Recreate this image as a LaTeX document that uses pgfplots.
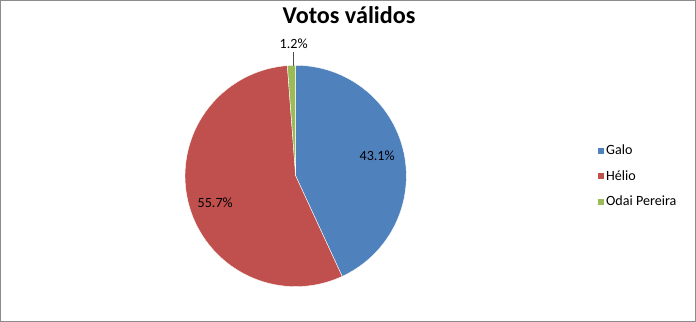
\documentclass[border=0pt]{standalone}
\usepackage{pgfplots}
\pgfplotsset{compat=1.18}
\usepackage{fontspec}
\setmainfont{Carlito}
\definecolor{galo}{HTML}{4F81BD}
\definecolor{helio}{HTML}{C0504D}
\definecolor{odai}{HTML}{9BBB59}
% vote shares (percent)
\def\vGalo{43.1}
\def\vHelio{55.7}
\def\vOdai{1.2}
\def\cx{294}\def\cy{146}\def\R{110}
\begin{document}
\begin{tikzpicture}
\begin{axis}[
  hide axis, scale only axis, width=696pt, height=321pt,
  xmin=0, xmax=696, ymin=0, ymax=321, clip=false,
  legend style={draw=none, fill=none, at={(axis cs:593,179)}, anchor=north west,
    font=\fontsize{14}{16}\selectfont, row sep=10pt, inner sep=0pt,
    /tikz/every even column/.append style={column sep=3pt}},
  legend cell align=left,
  legend image code/.code={\fill[#1] (0pt,-3.5pt) rectangle (7pt,3.5pt);},
]
\draw[color=black!45, line width=0.8pt] (axis cs:0.5,1.5) rectangle (axis cs:691.5,320.5);
\addplot[draw=white, line width=0.4pt, fill=galo, domain={90-3.6*\vGalo}:90, samples=90]
  ({\cx+\R*cos(x)},{\cy+\R*sin(x)}) -- (axis cs:\cx,\cy) -- cycle;
\addlegendentry{Galo}
\addplot[draw=white, line width=0.4pt, fill=helio, domain={90-3.6*(\vGalo+\vHelio)}:{90-3.6*\vGalo}, samples=110]
  ({\cx+\R*cos(x)},{\cy+\R*sin(x)}) -- (axis cs:\cx,\cy) -- cycle;
\addlegendentry{Hélio}
\addplot[draw=white, line width=0.4pt, fill=odai, domain={90-3.6*(\vGalo+\vHelio+\vOdai)}:{90-3.6*(\vGalo+\vHelio)}, samples=10]
  ({\cx+\R*cos(x)},{\cy+\R*sin(x)}) -- (axis cs:\cx,\cy) -- cycle;
\addlegendentry{Odai Pereira}
\node[font=\fontsize{24}{28}\selectfont\bfseries] at (axis cs:347,306) {Votos válidos};
\node[font=\fontsize{14}{16}\selectfont] at (axis cs:375,166) {43.1\%};
\node[font=\fontsize{14}{16}\selectfont] at (axis cs:214,119) {55.7\%};
\node[font=\fontsize{14}{16}\selectfont] at (axis cs:292,277) {1.2\%};
\draw[black!70, line width=0.6pt] (axis cs:292,269) -- (axis cs:292,255);
\end{axis}
\end{tikzpicture}
\end{document}
